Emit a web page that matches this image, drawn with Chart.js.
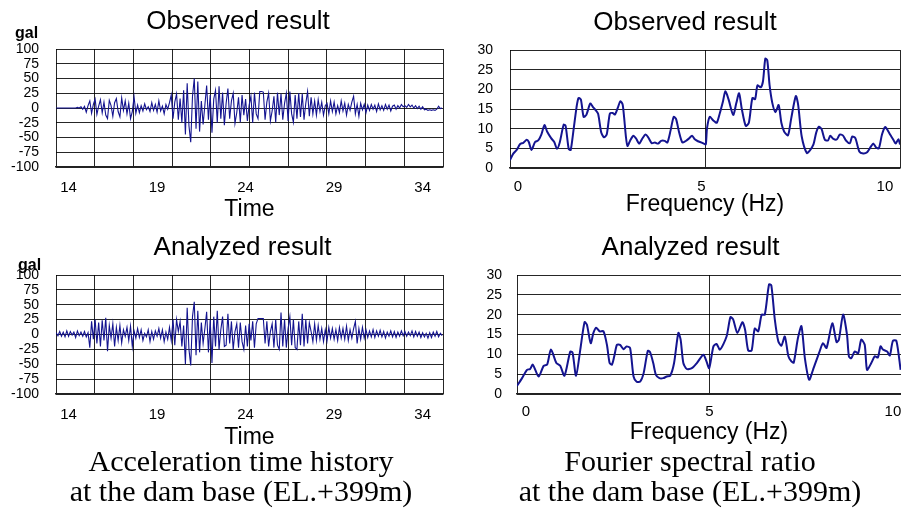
<!DOCTYPE html>
<html><head><meta charset="utf-8">
<script src="https://cdn.jsdelivr.net/npm/chart.js@4.4.1/dist/chart.umd.min.js"></script>
<style>
html,body{margin:0;padding:0;background:#fff;}
body{width:901px;height:512px;position:relative;overflow:hidden;font-family:'Liberation Sans',Arial,sans-serif;}
canvas{position:absolute;}
.gal{position:absolute;font-weight:bold;font-size:16px;line-height:16px;color:#000;}
.cap{position:absolute;font-family:'Liberation Serif','Times New Roman',serif;font-size:30px;line-height:30px;text-align:center;white-space:nowrap;color:#000;z-index:2;}
</style></head><body>
<canvas id="tl" width="476" height="225" style="left:0;top:0"></canvas>
<canvas id="tr" width="470" height="225" style="left:450px;top:0"></canvas>
<canvas id="bl" width="485" height="230" style="left:0;top:225px"></canvas>
<canvas id="br" width="481" height="230" style="left:450px;top:225px"></canvas>
<div class="gal" style="left:15px;top:25px">gal</div>
<div class="gal" style="left:18px;top:257px">gal</div>
<div class="cap" style="left:41px;top:446px;width:400px">Acceleration time history<br>at the dam base (EL.+399m)</div>
<div class="cap" style="left:490px;top:446px;width:400px">Fourier spectral ratio<br>at the dam base (EL.+399m)</div>
<script>
// ---- data ----
const timeStart = 13.3;      // s, first sample
const timeStep = 0.1;        // s, sampling step of the transcribed record
const timeTicks = [14, 19, 24, 29, 34];
const accelTicks = [-100, -75, -50, -25, 0, 25, 50, 75, 100];
const freqTicks = [0, 5, 10];
const ratioTicks = [0, 5, 10, 15, 20, 25, 30];

const observedAccel = [
 0,0,0,0,0,0,0,
 0,0,0,0,0,1,0,2,-2,3,
 -7,4,12,-9,6,15,-11,3,14,-8,
 10,-12,-18,13,4,-14,9,16,-6,-15,
 17,-4,12,-10,8,-18,-6,19,-9,5,
 -8,4,-5,7,-3,2,-6,9,-4,6,
 -7,12,-5,3,-10,6,-2,9,22,-18,
 10,24,-20,16,-25,30,-45,42,-30,-58,
 20,50,-35,45,-40,12,-28,5,38,-20,
 22,-42,15,30,-25,37,-18,26,-29,8,
 33,-18,12,25,-26,-8,18,-24,22,-12,
 15,-22,5,20,-25,26,-10,-18,28,28,
 27,-20,10,25,-22,-5,20,-24,26,-12,
 24,-20,8,25,-22,28,-10,-24,22,-18,
 25,-15,24,-20,8,28,-14,18,-10,12,
 -12,14,-6,10,-12,4,8,-10,12,-6,
 10,-10,4,-8,12,-5,8,-12,6,-4,
 10,20,-10,6,-14,8,-3,6,-8,5,
 -4,6,-2,5,-6,7,-3,4,-4,6,
 -2,5,-5,3,5,-2,4,0,6,2,
 4,1,6,2,5,0,4,-1,3,-2,
 2,-3,-2,-4,-3,-4,-3,-4,-2,3,
 -1,0
];
const analyzedAccel = [
 3,-2,5,-3,4,-4,6,
 -3,5,-1,4,-5,6,-2,4,-3,5,
 -4,3,-22,22,-8,25,-15,20,-20,24,
 -10,28,-28,15,-6,18,-20,12,-10,15,
 -14,8,-3,12,-10,14,-20,6,-6,10,
 -5,8,-10,2,-4,8,-12,5,-8,6,
 -3,10,-6,8,-12,4,-8,12,-10,25,
 -18,25,5,22,-20,15,-50,45,-25,-52,
 30,55,-35,40,-30,20,-15,10,38,-30,
 25,-48,30,-20,40,-25,8,30,-20,-18,
 35,-15,22,-25,5,18,-22,20,-12,-25,
 15,-20,18,-10,22,-22,18,27,27,27,
 27,-15,22,-20,5,18,-22,25,-18,-25,
 37,-20,25,-22,10,30,-18,25,-22,-25,
 22,-18,35,-20,25,-15,20,5,-12,18,
 -10,15,-8,10,-12,8,-10,12,-6,10,
 -8,8,-10,12,-6,10,-8,14,-10,8,
 -6,10,22,-15,10,-8,12,-6,8,-5,
 6,-4,8,-5,6,-3,7,-4,5,-6,
 4,-3,6,-4,5,-5,4,-3,6,-2,
 5,-3,4,-2,6,-4,5,-3,4,-5,
 3,-4,2,-6,3,-5,4,-3,5,-4,
 2,-2
];

const observedFreq = [0.00,0.08,0.17,0.26,0.34,0.43,0.48,0.55,0.64,0.72,0.80,0.88,0.95,1.05,1.13,1.20,1.27,1.37,1.42,1.50,1.55,1.62,1.70,1.75,1.81,1.88,1.95,2.05,2.12,2.18,2.25,2.33,2.40,2.47,2.55,2.62,2.68,2.76,2.82,2.88,2.96,3.00,3.07,3.15,3.22,3.30,3.38,3.46,3.53,3.62,3.70,3.78,3.86,3.95,4.02,4.10,4.18,4.24,4.32,4.40,4.48,4.56,4.65,4.72,4.80,4.88,4.95,5.00,5.03,5.10,5.20,5.28,5.36,5.44,5.50,5.58,5.70,5.78,5.85,5.92,6.02,6.10,6.19,6.26,6.32,6.40,6.46,6.52,6.57,6.63,6.70,6.78,6.86,6.93,7.00,7.10,7.18,7.30,7.36,7.45,7.58,7.66,7.75,7.82,7.89,7.96,8.04,8.12,8.18,8.26,8.35,8.42,8.50,8.58,8.68,8.74,8.82,8.92,9.02,9.12,9.22,9.28,9.35,9.42,9.50,9.58,9.65,9.72,9.80,9.85,9.92,9.96];
const observedRatio = [2.0,3.6,4.6,6.1,6.4,7.2,6.6,4.6,6.6,7.0,8.5,10.9,9.2,7.6,6.6,4.9,6.5,11.0,10.7,4.8,4.6,9.5,15.5,17.8,17.4,13.0,13.5,16.4,15.5,14.8,13.8,9.0,7.8,8.5,13.8,14.0,13.6,15.5,17.0,16.0,8.0,5.6,7.0,8.2,7.5,6.2,7.5,8.5,7.8,6.3,6.5,6.2,6.9,6.9,6.5,9.5,13.0,12.5,9.0,6.5,6.8,7.4,8.2,7.3,6.8,6.5,6.2,6.0,10.0,13.0,12.0,11.5,14.0,17.0,19.5,17.5,13.5,16.5,19.0,15.0,10.7,11.5,17.8,17.5,21.0,20.5,22.0,27.8,27.4,21.0,16.5,14.2,16.0,11.5,9.3,8.3,12.5,18.3,16.0,8.0,3.8,4.5,6.0,9.0,10.5,9.8,7.2,7.0,8.2,7.4,7.3,8.5,8.3,7.0,6.3,8.0,7.6,4.2,3.7,4.0,5.5,6.2,5.2,5.0,8.5,10.4,9.5,8.3,7.0,6.2,7.3,6.0,2.8];

const analyzedFreq = [0.00,0.13,0.26,0.34,0.41,0.56,0.69,0.78,0.88,1.02,1.12,1.23,1.38,1.44,1.53,1.64,1.75,1.81,1.91,1.98,2.05,2.14,2.24,2.33,2.40,2.46,2.52,2.59,2.67,2.76,2.84,2.93,3.02,3.10,3.19,3.28,3.39,3.45,3.53,3.60,3.69,3.79,3.88,3.97,4.07,4.18,4.24,4.31,4.40,4.53,4.66,4.83,4.91,4.98,5.09,5.17,5.26,5.43,5.53,5.60,5.71,5.84,5.91,5.99,6.08,6.16,6.25,6.34,6.42,6.53,6.59,6.68,6.77,6.85,6.94,7.03,7.11,7.17,7.28,7.37,7.46,7.57,7.67,7.84,7.93,8.02,8.17,8.28,8.34,8.45,8.55,8.60,8.66,8.75,8.84,8.92,9.01,9.07,9.18,9.27,9.35,9.42,9.48,9.59,9.66,9.74,9.83,9.94];
const analyzedRatio = [2.0,4.0,6.1,6.3,7.4,4.4,7.1,7.4,11.2,7.8,7.1,4.6,10.7,10.4,4.6,11.2,18.1,17.5,12.8,15.4,16.7,15.8,15.8,12.4,7.8,7.4,9.5,12.4,12.4,11.3,12.0,11.6,4.4,3.1,3.1,5.2,10.9,10.5,7.8,4.8,4.0,4.0,4.4,4.6,7.8,15.4,13.7,7.8,6.3,6.5,7.8,9.9,8.2,6.5,12.0,12.6,11.2,14.5,19.4,18.8,15.4,18.1,16.2,11.0,11.0,16.5,15.8,20.0,20.0,27.6,27.4,18.8,13.3,12.2,14.5,9.6,8.2,7.9,14.1,17.1,9.0,3.6,6.1,10.7,12.8,11.6,17.8,13.1,13.7,20.0,15.0,9.5,9.0,10.7,10.3,13.7,12.4,6.1,7.8,9.5,9.2,12.0,11.2,10.7,9.7,13.4,13.4,6.1];

// ---- drawing ----
Chart.defaults.font.family = "'Liberation Sans', Arial, Helvetica, sans-serif";
Chart.defaults.color = '#000';
const LINE = '#141490';
const GRID = 'rgba(0,0,0,0.85)';

function series(xs, ys) { return ys.map((v, i) => ({ x: xs[i], y: v })); }
const timeAxis = observedAccel.map((_, i) => +(timeStart + i * timeStep).toFixed(2));

function panel(id, o) {
  const fixW = w => s => { s.width = w; s.paddingTop = 0; s.paddingBottom = 0; };
  const fixH = h => s => { s.height = h; s.paddingLeft = 0; s.paddingRight = 0; };
  return new Chart(document.getElementById(id), {
    type: 'line',
    data: { datasets: [{ data: o.points, xAxisID: o.dataAxis, yAxisID: 'y', borderColor: LINE,
      borderWidth: o.lw, pointRadius: 0, tension: o.tension, fill: false }] },
    options: {
      responsive: false, animation: false, devicePixelRatio: 1,
      layout: { padding: 0 },
      plugins: {
        legend: { display: false }, tooltip: { enabled: false },
        title: { display: true, text: o.title, color: '#000',
          font: { size: 26, weight: 'normal', lineHeight: 1.2 },
          padding: { top: o.tt, bottom: o.tb } }
      },
      scales: {
        y: { type: 'linear', min: o.yTicks[0], max: o.yTicks[o.yTicks.length - 1],
          afterBuildTicks: s => { s.ticks = o.yTicks.map(v => ({ value: v })); },
          ticks: { autoSkip: false, padding: o.yPad, font: { size: 14 }, color: '#000' },
          grid: { color: GRID, lineWidth: 1, drawTicks: false },
          border: { display: false }, afterFit: fixW(o.yw) },
        yr: { type: 'linear', axis: 'y', position: 'right', min: 0, max: 1,
          ticks: { display: false }, grid: { display: false, drawTicks: false },
          border: { display: false }, afterFit: fixW(o.rw) },
        xg: { type: 'linear', axis: 'x', position: 'top', min: o.gMin, max: o.gMax,
          afterBuildTicks: s => { s.ticks = o.gTicks.map(v => ({ value: v })); },
          ticks: { display: false }, grid: { color: GRID, lineWidth: 1, drawTicks: false },
          border: { display: false }, afterFit: fixH(0) },
        xl: { type: 'linear', axis: 'x', position: 'bottom', min: o.lMin, max: o.lMax,
          afterBuildTicks: s => { s.ticks = o.lTicks.map(v => ({ value: v })); },
          ticks: { autoSkip: false, maxRotation: 0, padding: o.xPad, font: { size: 15 }, color: '#000' },
          grid: { display: false, drawTicks: false },
          border: { display: true, color: '#222', width: 1.5 },
          title: { display: true, text: o.xTitle, color: '#000', font: { size: 23 },
            padding: { top: 0, bottom: o.xtb } },
          afterFit: fixH(o.xh) }
      }
    }
  });
}

const tenDiv = [0,1,2,3,4,5,6,7,8,9,10];

panel('tl', { title: 'Observed result', points: series(timeAxis, observedAccel), dataAxis: 'xl',
  lw: 1.1, tension: 0, tt: 6, tb: 11.8, yw: 56, rw: 33, yPad: 17, yTicks: accelTicks,
  gMin: 0, gMax: 10, gTicks: tenDiv, lMin: 13.29, lMax: 35.15, lTicks: timeTicks,
  xPad: 12, xTitle: 'Time', xtb: 2, xh: 58 });

panel('tr', { title: 'Observed result', points: series(observedFreq, observedRatio), dataAxis: 'xg',
  lw: 2, tension: 0.25, tt: 7, tb: 11.8, yw: 60, rw: 20, yPad: 17, yTicks: ratioTicks,
  gMin: 0, gMax: 9.96, gTicks: [0, 5, 9.96], lMin: -0.218, lMax: 10.41, lTicks: freqTicks,
  xPad: 10, xTitle: 'Frequency (Hz)', xtb: 7, xh: 57 });

panel('bl', { title: 'Analyzed result', points: series(timeAxis, analyzedAccel), dataAxis: 'xl',
  lw: 1.1, tension: 0, tt: 7, tb: 11.8, yw: 56, rw: 42, yPad: 17, yTicks: accelTicks,
  gMin: 0, gMax: 10, gTicks: tenDiv, lMin: 13.29, lMax: 35.15, lTicks: timeTicks,
  xPad: 11.5, xTitle: 'Time', xtb: 4, xh: 61 });

panel('br', { title: 'Analyzed result', points: series(analyzedFreq, analyzedRatio), dataAxis: 'xg',
  lw: 2, tension: 0.25, tt: 7, tb: 11.8, yw: 67, rw: 30, yPad: 15, yTicks: ratioTicks,
  gMin: 0, gMax: 9.95, gTicks: [0, 5, 9.95], lMin: -0.245, lMax: 10.22, lTicks: freqTicks,
  xPad: 9, xTitle: 'Frequency (Hz)', xtb: 9, xh: 61 });
</script>
</body></html>
